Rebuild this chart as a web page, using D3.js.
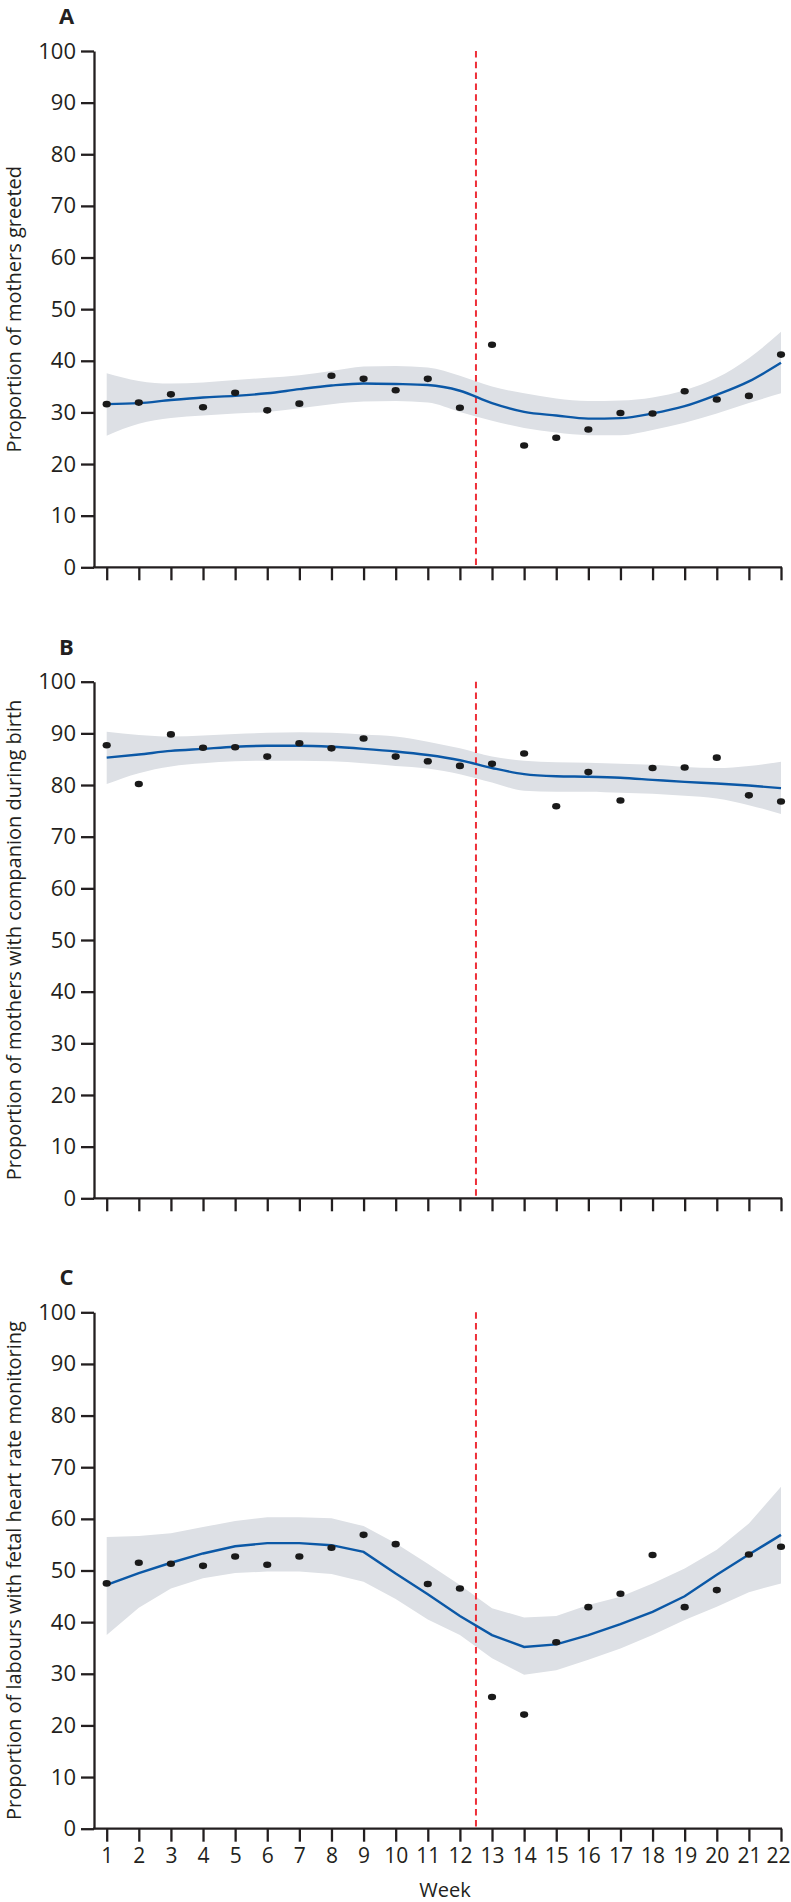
<!DOCTYPE html>
<html>
<head>
<meta charset="utf-8">
<script src="https://cdn.jsdelivr.net/npm/d3@7"></script>
<style>
  html, body { margin: 0; padding: 0; background: #fff; }
  svg { display: block; }
  text { font-family: "Open Sans", "Noto Sans", sans-serif; fill: #231f20; }
</style>
</head>
<body>
<svg id="chart" width="791" height="1902"></svg>
<script>
// ---------- data ----------
const weeks = d3.range(1, 23);
const yTicks = [0, 10, 20, 30, 40, 50, 60, 70, 80, 90, 100];
const interventionWeek = 12.5;
const panelLetters = ["A", "B", "C"];
const yTitles = [
  "Proportion of mothers greeted",
  "Proportion of mothers with companion during birth",
  "Proportion of labours with fetal heart rate monitoring"
];
const xTitle = "Week";

// Panel A
const aObserved = [31.6,31.9,33.5,31.0,33.8,30.4,31.7,37.1,36.5,34.3,36.5,30.9,43.1,23.6,25.1,26.7,29.9,29.8,34.1,32.5,33.2,41.2];
const aFitted   = [31.6,31.8,32.4,32.9,33.2,33.7,34.5,35.2,35.6,35.5,35.3,34.2,31.8,30.1,29.4,28.8,28.9,29.8,31.2,33.4,36.0,39.6];
const aUpper    = [37.6,36.1,35.6,35.8,36.3,36.7,37.2,38.0,38.9,39.0,38.7,37.1,35.0,33.7,32.7,32.2,32.3,32.9,34.3,36.7,40.5,45.6];
const aLower    = [25.5,27.8,28.9,29.4,29.8,30.1,30.8,31.6,32.1,32.2,31.9,30.1,28.4,27.0,26.1,25.6,25.6,26.6,28.0,29.8,31.8,33.7];

// Panel B
const bObserved = [87.7,80.2,89.8,87.2,87.3,85.5,88.1,87.1,89.0,85.5,84.6,83.7,84.1,86.1,75.9,82.5,77.0,83.3,83.4,85.3,78.0,76.8];
const bFitted   = [85.3,85.9,86.6,87.0,87.4,87.6,87.6,87.4,87.0,86.5,85.8,84.8,83.3,82.1,81.7,81.6,81.4,81.0,80.6,80.3,79.9,79.4];
const bUpper    = [90.3,89.7,89.4,89.6,89.9,90.1,90.2,90.1,89.8,89.4,88.4,87.1,85.5,84.7,84.4,84.3,84.1,83.9,83.5,83.3,83.7,84.5];
const bLower    = [80.2,82.3,83.6,84.2,84.6,84.7,84.7,84.6,84.2,83.7,83.2,82.1,80.5,78.9,78.7,78.7,78.5,78.3,77.9,77.4,76.1,74.4];

// Panel C
const cObserved = [47.5,51.5,51.3,50.9,52.7,51.1,52.7,54.4,56.9,55.1,47.4,46.5,25.5,22.1,36.1,42.9,45.5,53.0,42.9,46.2,53.1,54.6];
const cFitted   = [47.2,49.5,51.5,53.3,54.7,55.3,55.3,54.9,53.6,49.4,45.4,41.2,37.5,35.2,35.7,37.5,39.6,42.0,45.0,49.2,53.1,56.9];
const cUpper    = [56.5,56.7,57.2,58.4,59.6,60.3,60.3,60.1,58.6,55.3,51.3,47.2,42.7,40.9,41.2,43.3,44.9,47.5,50.4,54.0,59.1,66.2];
const cLower    = [37.5,42.8,46.5,48.5,49.5,49.8,49.8,49.3,47.8,44.5,40.5,37.5,33.0,29.8,30.7,32.7,34.9,37.5,40.4,43.0,45.8,47.5];

const panels = [
  { observed: aObserved, fitted: aFitted, upper: aUpper, lower: aLower, top: 51,   bottom: 567.3,  curve: d3.curveMonotoneX, xLabels: false },
  { observed: bObserved, fitted: bFitted, upper: bUpper, lower: bLower, top: 681.7, bottom: 1198.3, curve: d3.curveMonotoneX, xLabels: false },
  { observed: cObserved, fitted: cFitted, upper: cUpper, lower: cLower, top: 1312.3, bottom: 1828.7, curve: d3.curveLinear, xLabels: true }
];

// ---------- drawing ----------
const svg = d3.select("#chart");
const axisX0 = 94, xLeft = 106.7, xRight = 781;
const x = d3.scaleLinear().domain([1, 22]).range([xLeft, xRight]);
const ink = "#231f20";

panels.forEach((p, i) => {
  const y = d3.scaleLinear().domain([0, 100]).range([p.bottom, p.top]);
  const g = svg.append("g");
  const rows = weeks.map((w, k) => ({ w, obs: p.observed[k], fit: p.fitted[k], lo: p.lower[k], hi: p.upper[k] }));

  // CI band
  g.append("path")
    .datum(rows)
    .attr("fill", "#dde0e5")
    .attr("d", d3.area().curve(p.curve).x(d => x(d.w)).y0(d => y(d.lo)).y1(d => y(d.hi)));

  // intervention line
  g.append("line")
    .attr("x1", x(interventionWeek)).attr("x2", x(interventionWeek))
    .attr("y1", y(100)).attr("y2", y(0))
    .attr("stroke", "#ee2e38").attr("stroke-width", 2)
    .attr("stroke-dasharray", "6.5,4.3");

  // fitted line
  g.append("path")
    .datum(rows)
    .attr("fill", "none")
    .attr("stroke", "#0b58a6")
    .attr("stroke-width", 2.4)
    .attr("d", d3.line().curve(p.curve).x(d => x(d.w)).y(d => y(d.fit)));

  // observed points
  g.selectAll("ellipse.pt").data(rows).join("ellipse")
    .attr("class", "pt")
    .attr("cx", d => x(d.w)).attr("cy", d => y(d.obs))
    .attr("rx", 4.1).attr("ry", 3.3)
    .attr("fill", "#1a1a1a");

  // y axis
  const yAxis = g.append("g")
    .attr("transform", `translate(${axisX0},0)`)
    .call(d3.axisLeft(y).tickValues(yTicks).tickSize(13).tickSizeOuter(0).tickPadding(5));
  yAxis.select(".domain").attr("stroke", ink).attr("stroke-width", 2.3);
  yAxis.selectAll(".tick line").attr("stroke", ink).attr("stroke-width", 2.3);
  yAxis.selectAll(".tick text")
    .attr("font-size", 22).attr("fill", ink)
    .style("font-family", "'Open Sans', 'Noto Sans', sans-serif");

  // x axis
  const xAxis = g.append("g")
    .attr("transform", `translate(0,${p.bottom})`)
    .call(d3.axisBottom(x).tickValues(weeks).tickSize(13).tickSizeOuter(0).tickPadding(6)
      .tickFormat(p.xLabels ? d3.format("d") : () => ""));
  xAxis.select(".domain").remove();
  xAxis.append("line")
    .attr("x1", axisX0 - 1).attr("x2", xRight + 1)
    .attr("y1", 0).attr("y2", 0)
    .attr("stroke", ink).attr("stroke-width", 2.3);
  xAxis.selectAll(".tick line").attr("stroke", ink).attr("stroke-width", 2.3);
  xAxis.selectAll(".tick text")
    .attr("font-size", 21).attr("fill", ink)
    .attr("dx", d => d === 22 ? -3 : 0)
    .style("font-family", "'Open Sans', 'Noto Sans', sans-serif");

  // y title
  svg.append("text")
    .attr("transform", `translate(21,${(p.top + p.bottom) / 2}) rotate(-90)`)
    .attr("text-anchor", "middle")
    .attr("font-size", 20)
    .text(yTitles[i]);

  // panel letter
  svg.append("text")
    .attr("x", 66.5).attr("y", p.top - 27)
    .attr("text-anchor", "middle")
    .attr("font-size", 22).attr("font-weight", 700)
    .text(panelLetters[i]);

  if (p.xLabels) {
    svg.append("text")
      .attr("x", 445).attr("y", p.bottom + 68)
      .attr("text-anchor", "middle")
      .attr("font-size", 20)
      .text(xTitle);
  }
});
</script>
</body>
</html>
